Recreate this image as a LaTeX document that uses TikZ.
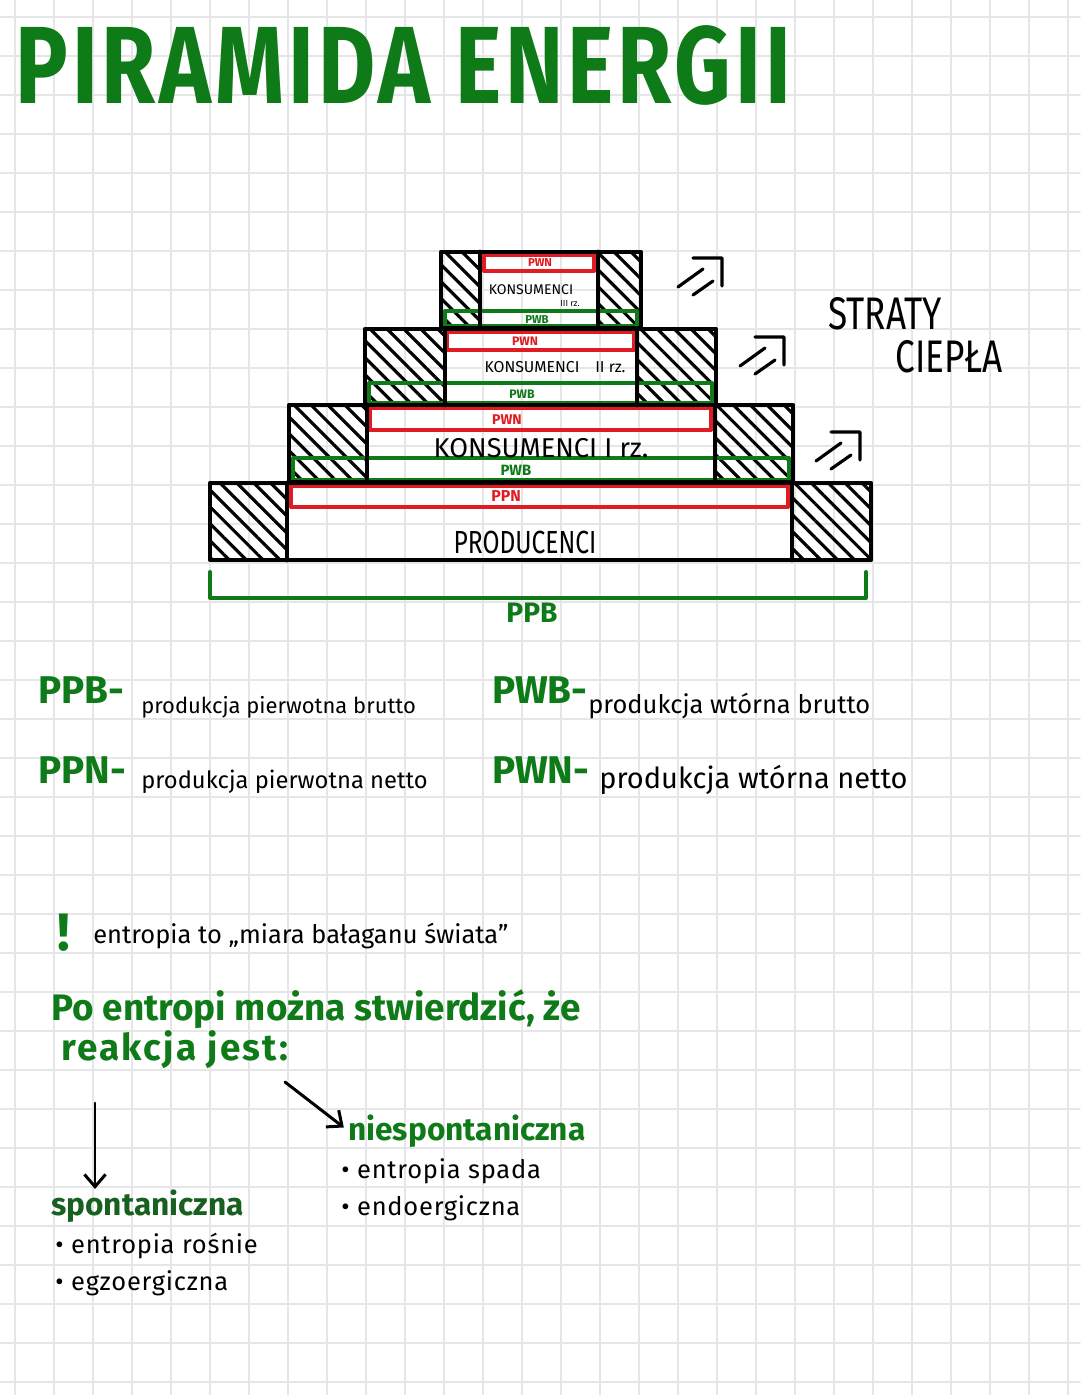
\documentclass[tikz,border=0pt]{standalone}
\usepackage{fontspec}
\setmainfont{Fira Sans}
\newfontfamily\titlefont{Fira Sans}[LetterSpace=4.5]
\usetikzlibrary{arrows.meta,patterns.meta}
\definecolor{inkgreen}{RGB}{14,122,24}
\definecolor{darkgreen}{RGB}{24,96,32}
\definecolor{inkred}{RGB}{224,28,34}
\definecolor{gridgrey}{RGB}{230,230,233}

\begin{document}
\begin{tikzpicture}[x=0.02cm,y=-0.02cm,line cap=round,line join=round,
  every node/.style={inner sep=0pt},
  outline/.style={draw=black,line width=2.7pt},
  hatched/.style={pattern={Lines[angle=-45,distance=6.8pt,line width=1.8pt]},pattern color=black},
  netbox/.style={draw=inkred,line width=2.3pt},
  grossbox/.style={draw=inkgreen,line width=2.3pt},
  heat/.style={draw=black,line width=1.8pt},
  pointer/.style={draw=black,line width=1.7pt,-{Straight Barb[length=7pt,width=12pt,line width=1.7pt]}},
  tag/.style={font=\bfseries\fontsize{#1}{#1}\selectfont},
  level/.style={font=\fontsize{#1}{#1}\selectfont},
  abbr/.style={font=\bfseries\fontsize{22}{22}\selectfont,text=inkgreen,anchor=base west},
  desc/.style={font=\fontsize{#1}{#1}\selectfont,anchor=base west},
  bigline/.style={font=\bfseries\fontsize{21}{22}\selectfont,text=inkgreen,anchor=base west},
  note/.style={font=\fontsize{14.5}{15}\selectfont\addfontfeature{LetterSpace=3},anchor=base west}]
  \useasboundingbox (0,0) rectangle (1080,1395);
  \fill[white] (0,0) rectangle (1080,1395);
  % squared paper
  \foreach \gx in {15,54,...,1080} \draw[gridgrey,line width=0.9pt] (\gx,0) -- (\gx,1395);
  \foreach \gy in {17,56,...,1395} \draw[gridgrey,line width=0.9pt] (0,\gy) -- (1080,\gy);

  \node[font=\titlefont\bfseries\fontsize{50}{50}\selectfont,text=inkgreen,yscale=1.25,anchor=west] (title) at (15,65) {PIRAMIDA ENERGII};

  % pyramid: hatched losses
  \foreach \xl/\xr/\yt/\yb/\il/\ir in {441/641/252/328/480/598,365/716/329/405/445/637,289/793/405/482/367/715,210/871/483/560/287/792} {
    \fill[hatched] (\xl,\yt) rectangle (\il,\yb);
    \fill[hatched] (\ir,\yt) rectangle (\xr,\yb);
  }
  % net and gross production
  \draw[netbox] (484,255) rectangle (594,271);
  \draw[grossbox] (445,311) rectangle (637,326);
  \draw[netbox] (447,332) rectangle (634,350);
  \draw[grossbox] (369,383) rectangle (712,403);
  \draw[netbox] (370,408) rectangle (711,430);
  \draw[grossbox] (293,458) rectangle (789,480);
  \draw[netbox] (291,486) rectangle (788,507);
  \foreach \xl/\xr/\yt/\yb/\il/\ir in {441/641/252/328/480/598,365/716/329/405/445/637,289/793/405/482/367/715,210/871/483/560/287/792} {
    \draw[outline] (\xl,\yt) rectangle (\xr,\yb) (\il,\yt) -- (\il,\yb) (\ir,\yt) -- (\ir,\yb);
  }
  \draw[grossbox] (210,572) -- (210,598) -- (866,598) -- (866,572);

  % labels in the pyramid
  \node[tag=6.5,text=inkred] (pwnthree) at (540,263) {PWN};
  \node[level=8] (konsthree) at (531,290) {KONSUMENCI};
  \node[level=5] (rzthree) at (570,304) {III rz.};
  \node[tag=6.5,text=inkgreen] (pwbthree) at (537,320) {PWB};
  \node[tag=7,text=inkred] (pwntwo) at (525,341) {PWN};
  \node[level=9] (konstwo) at (555,367) {KONSUMENCI\quad II rz.};
  \node[tag=7,text=inkgreen] (pwbtwo) at (522,394) {PWB};
  \node[tag=8,text=inkred] (pwnone) at (507,420) {PWN};
  \node[level=15.5] (konsone) at (541,448) {KONSUMENCI I rz.};
  \node[tag=8.5,text=inkgreen] (pwbone) at (516,470) {PWB};
  \node[tag=9,text=inkred] (ppn) at (506,496) {PPN};
  \node[level=14,yscale=1.3] (prod) at (525,542) {PRODUCENCI};
  \node[tag=16,text=inkgreen] (ppb) at (532,613) {PPB};

  % heat losses
  \foreach \hx/\hy in {722/258,784/337,860/432} {
    \draw[heat,shift={(\hx,\hy)}] (-44,29) -- (-19,11) (-29,37) -- (-9,23) (-29,0) -- (0,0) -- (0,28);
  }
  \node[font=\fontsize{20}{20}\selectfont,yscale=1.3,anchor=base west] (straty) at (828,330) {STRATY};
  \node[font=\fontsize{20}{20}\selectfont,yscale=1.3,anchor=base west] (ciepla) at (895,372) {CIEPŁA};

  % legend
  \node[abbr] (ppbkey) at (38,703) {PPB-};
  \node[desc=12.5] (ppbtext) at (141,713) {produkcja pierwotna brutto};
  \node[abbr] (ppnkey) at (38,783) {PPN-};
  \node[desc=13.5] (ppntext) at (141,788) {produkcja pierwotna netto};
  \node[abbr] (pwbkey) at (492,703) {PWB-};
  \node[desc=14.5] (pwbtext) at (588,713) {produkcja wtórna brutto};
  \node[abbr] (pwnkey) at (492,783) {PWN-};
  \node[desc=16.5] (pwntext) at (599,788) {produkcja wtórna netto};

  % entropy
  \node[font=\bfseries\fontsize{30}{30}\selectfont,text=inkgreen,anchor=base] (mark) at (64,950) {!};
  \node[note,font=\fontsize{14.5}{15}\selectfont] (entropia) at (93,943) {entropia to „miara bałaganu świata”};
  \node[bigline] (po) at (51,1020) {Po entropi można stwierdzić, że};
  \node[bigline,font=\bfseries\fontsize{21}{22}\selectfont\addfontfeature{LetterSpace=6}] (reakcja) at (61,1060) {reakcja jest:};
  \node[bigline,font=\bfseries\fontsize{18}{20}\selectfont] (niespont) at (348,1140) {niespontaniczna};
  \node[note] (spada) at (341,1178) {• entropia spada};
  \node[note] (endo) at (341,1215) {• endoergiczna};
  \node[bigline,font=\bfseries\fontsize{18}{20}\selectfont,text=darkgreen] (spont) at (51,1215) {spontaniczna};
  \node[note] (rosnie) at (55,1253) {• entropia rośnie};
  \node[note] (egzo) at (55,1290) {• egzoergiczna};
  \coordinate (fork) at (95,1103);
  \coordinate (branch) at (285,1082);
  \draw[pointer] (fork) -- (fork |- spont.north);
  \draw[pointer,shorten >=3pt] (branch) -- (niespont.west);
\end{tikzpicture}
\end{document}
